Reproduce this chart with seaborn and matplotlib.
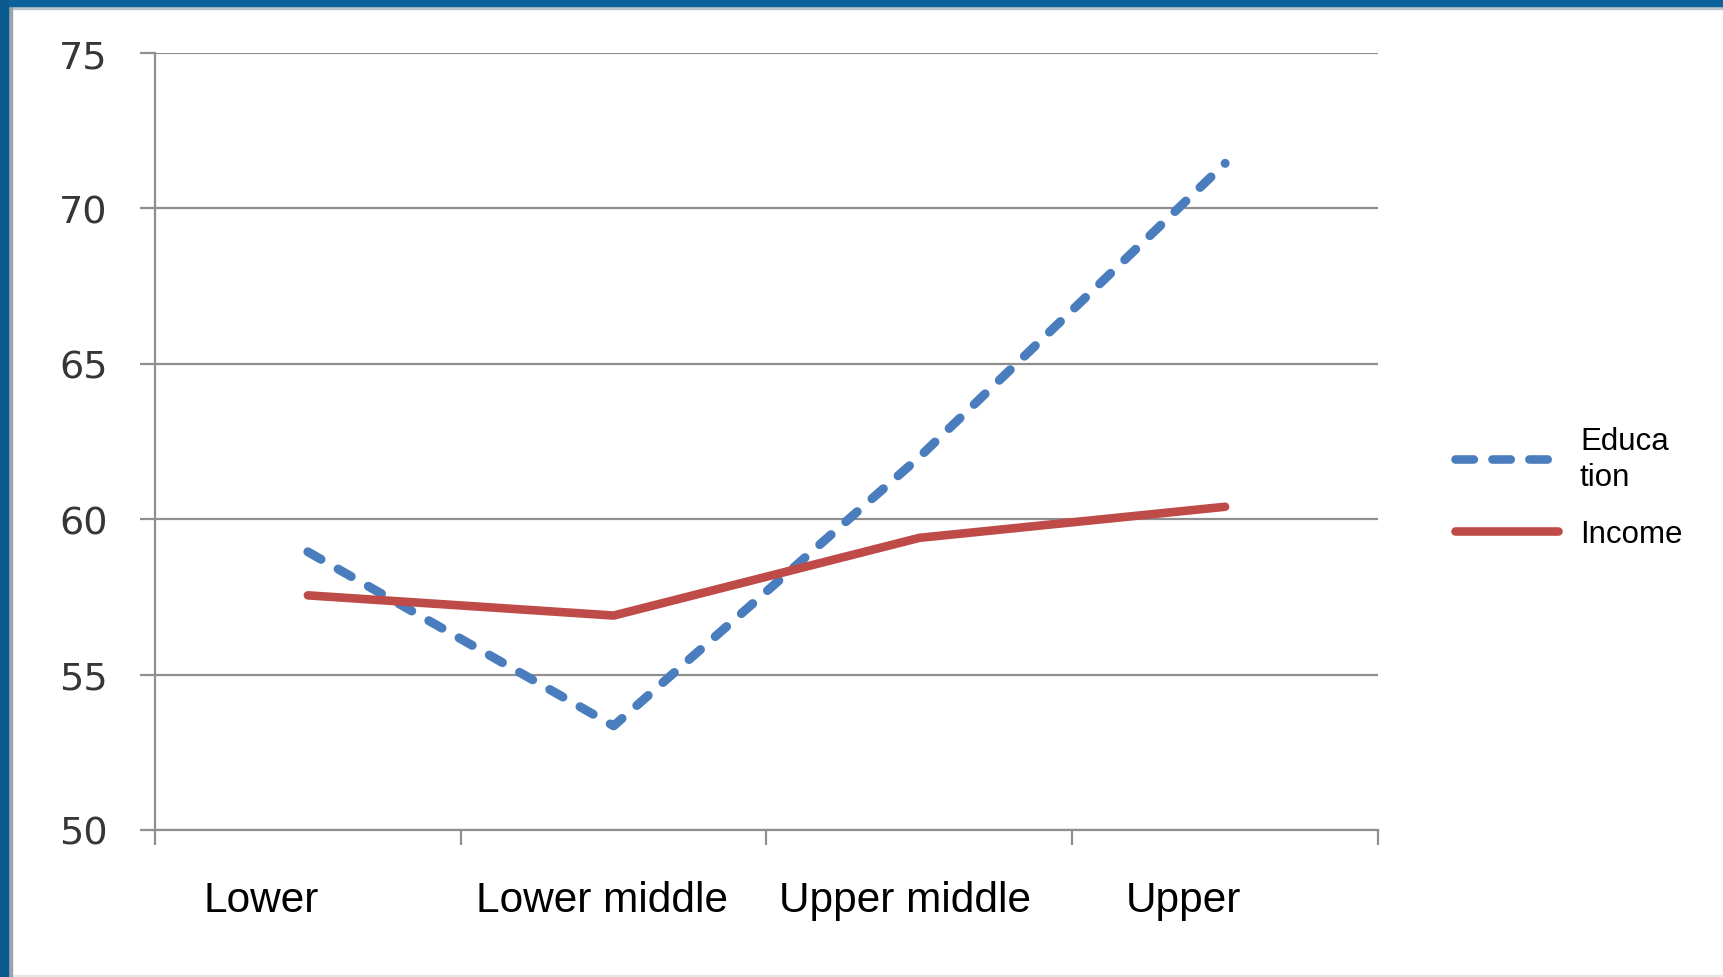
import matplotlib
matplotlib.use("Agg")
import matplotlib.pyplot as plt
import matplotlib.transforms as mtransforms
from matplotlib.lines import Line2D
from matplotlib.patches import Rectangle
import numpy as np
import pandas as pd
import seaborn as sns

# Data
classes = ["Lower", "Lower middle", "Upper middle", "Upper"]
education = [58.95, 53.35, 62.0, 71.45]
income = [57.55, 56.9, 59.4, 60.4]
y_ticks = [50, 55, 60, 65, 70, 75]
legend_labels = ["Educa\ntion", "Income"]

BLUE = "#4a7dbd"
RED = "#bf4b49"
GRID = "#8f8f8f"

sns.set_theme(style="white")
plt.rcParams["font.family"] = ["Liberation Sans", "DejaVu Sans"]
plt.rcParams["lines.scale_dashes"] = False

df = pd.DataFrame({
    "cls": list(range(len(classes))) * 2,
    "value": education + income,
    "series": ["Education"] * len(classes) + ["Income"] * len(classes),
})

W, H, DPI = 1724, 978, 100
fig = plt.figure(figsize=(W / DPI, H / DPI), dpi=DPI, facecolor="white")
ax = fig.add_axes([155 / W, 1 - 831 / H, (1378 - 155) / W, (831 - 54) / H])

sns.lineplot(
    data=df, x="cls", y="value", hue="series", style="series",
    palette={"Education": BLUE, "Income": RED},
    dashes={"Education": (10.9, 14.15), "Income": ""},
    linewidth=6.5, dash_capstyle="round", solid_capstyle="round",
    legend=False, ax=ax, zorder=3,
)
for ln in ax.get_lines():
    if matplotlib.colors.to_hex(ln.get_color()) == matplotlib.colors.to_hex(RED):
        ln.set_linewidth(6.2)

ax.set_xlim(-0.5, len(classes) - 0.5)
ax.set_ylim(50, 75)
ax.set_xlabel("")
ax.set_ylabel("")

# Horizontal gridlines
ax.set_yticks(y_ticks)
ax.yaxis.grid(True, color=GRID, linewidth=1.6, zorder=1)
ax.xaxis.grid(False)
ax.tick_params(axis="y", which="major", left=True, length=11, width=1.6,
               color=GRID, pad=23, labelsize=27.5, labelcolor="#363636")
for lab in ax.get_yticklabels():
    lab.set_fontfamily("DejaVu Sans")

# Category boundaries as minor ticks, category names as major labels
ax.set_xticks(np.arange(len(classes)))
ax.set_xticklabels(classes)
ax.set_xticks(np.arange(len(classes) + 1) - 0.5, minor=True)
ax.tick_params(axis="x", which="major", length=0, pad=36, labelsize=30.5,
               labelcolor="black")
ax.tick_params(axis="x", which="minor", bottom=True, length=11, width=1.6,
               color=GRID)
label_shift_px = [-47, -12, -14, -42]
for lab, dx in zip(ax.get_xticklabels(), label_shift_px):
    lab.set_transform(lab.get_transform() +
                      mtransforms.ScaledTranslation(dx / DPI, 0, fig.dpi_scale_trans))

for side in ["top", "right"]:
    ax.spines[side].set_visible(False)
for side in ["left", "bottom"]:
    ax.spines[side].set_color(GRID)
    ax.spines[side].set_linewidth(1.6)

# Legend
handles = [
    Line2D([], [], color=BLUE, linewidth=6.2, dashes=(13.2, 13.4), dash_capstyle="round"),
    Line2D([], [], color=RED, linewidth=6.2, solid_capstyle="round"),
]
leg = ax.legend(
    handles, legend_labels, loc="upper left",
    bbox_to_anchor=(1455 / W, 1 - 427 / H), bbox_transform=fig.transFigure,
    frameon=False, fontsize=22.5, handlelength=3.3, handletextpad=0.7,
    labelspacing=0.86, borderpad=0, borderaxespad=0,
)
for t in leg.get_texts():
    t.set_color("black")
    t.set_linespacing(1.25)

# Slide frame
fig.add_artist(Rectangle((0, 1 - 7 / H), 1, 7 / H, transform=fig.transFigure,
                         color="#0b6199", zorder=10))
fig.add_artist(Rectangle((0, 1 - 10 / H), 1, 3 / H, transform=fig.transFigure,
                         color="#b9c4cc", zorder=9))
fig.add_artist(Rectangle((0, 0), 8 / W, 1, transform=fig.transFigure,
                         color="#0b5a8e", zorder=10))
fig.add_artist(Rectangle((8 / W, 0), 4 / W, 1, transform=fig.transFigure,
                         color="#9aa6ae", zorder=9))
fig.add_artist(Rectangle((0, 0), 1, 2 / H, transform=fig.transFigure,
                         color="#e6e6e6", zorder=8))

fig.savefig("out.png", dpi=DPI, facecolor="white")
